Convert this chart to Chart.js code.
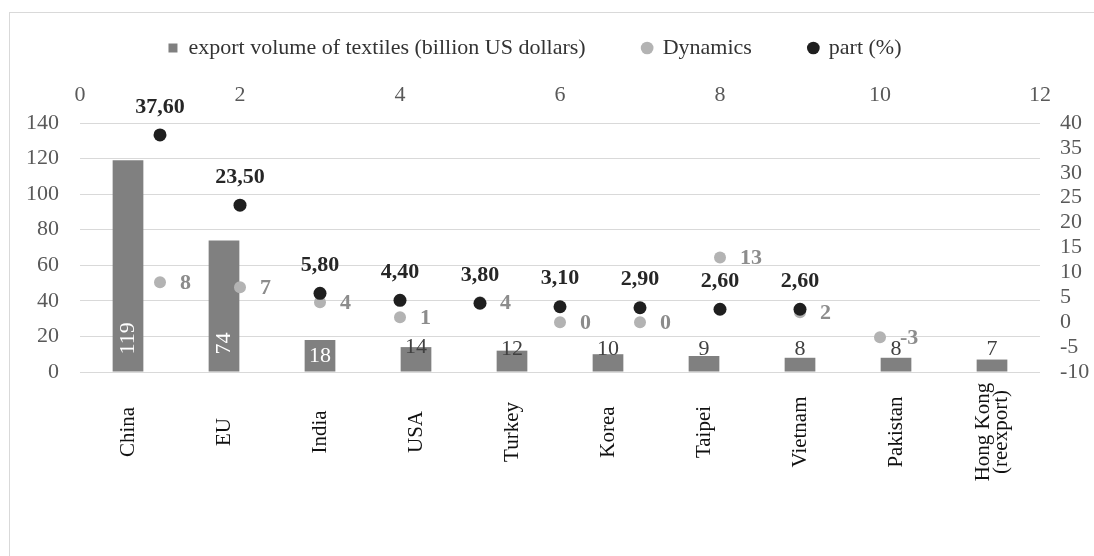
<!DOCTYPE html>
<html>
<head>
<meta charset="utf-8">
<title>Textile exports</title>
<script src="https://cdn.jsdelivr.net/npm/chart.js@4.4.1/dist/chart.umd.min.js"></script>
<style>
  html, body { margin: 0; padding: 0; background: #fff; }
  #wrap { position: relative; width: 1094px; height: 556px; overflow: hidden; }
  #frame { position: absolute; left: 9px; top: 12px; width: 1200px; height: 700px; border: 1px solid #d9d9d9; }
  #chart { position: absolute; left: 0; top: 0; }
</style>
</head>
<body>
<div id="wrap">
  <div id="frame"></div>
  <canvas id="chart" width="1094" height="556"></canvas>
</div>
<script>
// chart data
const categories = ["China", "EU", "India", "USA", "Turkey", "Korea", "Taipei", "Vietnam", "Pakistan", ["Hong Kong", "(reexport)"]];
const exportVolume = [119, 74, 18, 14, 12, 10, 9, 8, 8, 7];
const dynamicsX = [1, 2, 3, 4, 5, 6, 7, 8, 9, 10];
const dynamics = [8, 7, 4, 1, 4, 0, 0, 13, 2, -3];
const partX = [1, 2, 3, 4, 5, 6, 7, 8, 9];
const part = [37.6, 23.5, 5.8, 4.4, 3.8, 3.1, 2.9, 2.6, 2.6];

const seriesNames = ["export volume of textiles (billion US dollars)", "Dynamics", "part (%)"];
const legendStyles = ["rect", "circle", "circle"];

const FONT = '"Liberation Serif", "Times New Roman", serif';
Chart.defaults.font.family = FONT;
Chart.defaults.font.size = 22;
Chart.defaults.color = "#595959";

// category names under the bars, centred in the label band
const categoryLabels = {
  id: "categoryLabels",
  afterDraw(chart) {
    const ctx = chart.ctx;
    const xScale = chart.scales.x;
    const midY = chart.chartArea.bottom + 60;
    ctx.save();
    ctx.fillStyle = "#111";
    ctx.font = "21px " + FONT;
    ctx.textAlign = "center";
    ctx.textBaseline = "middle";
    categories.forEach((label, i) => {
      const lines = Array.isArray(label) ? label : [label];
      ctx.save();
      ctx.translate(xScale.getPixelForValue(i), midY);
      ctx.rotate(-Math.PI / 2);
      lines.forEach((line, j) => {
        ctx.fillText(line, 0, (j - (lines.length - 1) / 2) * 18);
      });
      ctx.restore();
    });
    ctx.restore();
  }
};

// value labels for bars and points
const valueLabels = {
  id: "valueLabels",
  afterDatasetsDraw(chart) {
    const ctx = chart.ctx;
    const yScale = chart.scales.y;
    ctx.save();
    ctx.textBaseline = "middle";

    ctx.font = "22px " + FONT;
    chart.getDatasetMeta(0).data.forEach((bar, i) => {
      const text = String(exportVolume[i]);
      const h = bar.base - bar.y;
      if (h > 100) {
        ctx.save();
        ctx.fillStyle = "#fff";
        ctx.translate(bar.x, bar.base - 17);
        ctx.rotate(-Math.PI / 2);
        ctx.textAlign = "left";
        ctx.fillText(text, 0, 0);
        ctx.restore();
      } else if (h > 28) {
        ctx.fillStyle = "#fff";
        ctx.textAlign = "center";
        ctx.fillText(text, bar.x, (bar.y + bar.base) / 2);
      } else {
        ctx.fillStyle = "#404040";
        ctx.textAlign = "center";
        ctx.fillText(text, bar.x, Math.min(bar.y, yScale.getPixelForValue(13)));
      }
    });

    ctx.font = "bold 22px " + FONT;
    ctx.fillStyle = "#8c8c8c";
    ctx.textAlign = "left";
    chart.getDatasetMeta(1).data.forEach((pt, i) => {
      ctx.fillText(String(dynamics[i]), pt.x + 20, pt.y + 1);
    });

    ctx.fillStyle = "#262626";
    ctx.textAlign = "center";
    chart.getDatasetMeta(2).data.forEach((pt, i) => {
      ctx.fillText(part[i].toFixed(2).replace(".", ","), pt.x, pt.y - 28);
    });
    ctx.restore();
  }
};

new Chart(document.getElementById("chart"), {
  type: "bar",
  data: {
    labels: categories,
    datasets: [
      {
        label: seriesNames[0],
        data: exportVolume,
        backgroundColor: "#808080",
        xAxisID: "x",
        yAxisID: "y",
        grouped: false,
        categoryPercentage: 1,
        barPercentage: 0.32,
        order: 3
      },
      {
        type: "scatter",
        label: seriesNames[1],
        data: dynamicsX.map((x, i) => ({ x: x, y: dynamics[i] })),
        backgroundColor: "#b3b3b3",
        borderWidth: 0,
        pointRadius: 6,
        xAxisID: "x2",
        yAxisID: "y2",
        order: 2
      },
      {
        type: "scatter",
        label: seriesNames[2],
        data: partX.map((x, i) => ({ x: x, y: part[i] })),
        backgroundColor: "#1f1f1f",
        borderWidth: 0,
        pointRadius: 6.5,
        xAxisID: "x2",
        yAxisID: "y2",
        order: 1
      }
    ]
  },
  options: {
    responsive: false,
    animation: false,
    layout: { padding: { top: -20, left: -24, right: 0, bottom: 0 } },
    plugins: {
      tooltip: { enabled: false },
      legend: {
        position: "top",
        labels: {
          usePointStyle: true,
          boxWidth: 9,
          boxHeight: 9,
          padding: 57,
          color: "#333",
          font: { size: 22 },
          sort: (a, b) => a.datasetIndex - b.datasetIndex,
          generateLabels(chart) {
            const items = Chart.defaults.plugins.legend.labels.generateLabels(chart);
            items.forEach((item) => {
              item.pointStyle = legendStyles[item.datasetIndex];
              item.lineWidth = 0;
            });
            return items;
          }
        }
      }
    },
    scales: {
      x: {
        type: "category",
        position: "bottom",
        grid: { display: false, drawTicks: false },
        border: { display: false },
        ticks: { display: false },
        afterFit: (scale) => { scale.height = 184; }
      },
      x2: {
        type: "linear",
        position: "top",
        offset: false,
        min: 0,
        max: 12,
        ticks: { stepSize: 2, padding: 15, autoSkip: false },
        grid: { display: false, drawTicks: false, offset: false },
        border: { display: false },
        afterFit: (scale) => { scale.height = 54; }
      },
      y: {
        position: "left",
        min: 0,
        max: 140,
        ticks: { stepSize: 20, padding: 21, autoSkip: false },
        grid: { color: "#d9d9d9", drawTicks: false },
        border: { display: false },
        afterFit: (scale) => { scale.width = 104; }
      },
      y2: {
        position: "right",
        min: -10,
        max: 40,
        ticks: { stepSize: 5, padding: 20, autoSkip: false },
        grid: { display: false, drawTicks: false },
        border: { display: false },
        afterFit: (scale) => { scale.width = 54; }
      }
    }
  },
  plugins: [valueLabels, categoryLabels]
});
</script>
</body>
</html>
